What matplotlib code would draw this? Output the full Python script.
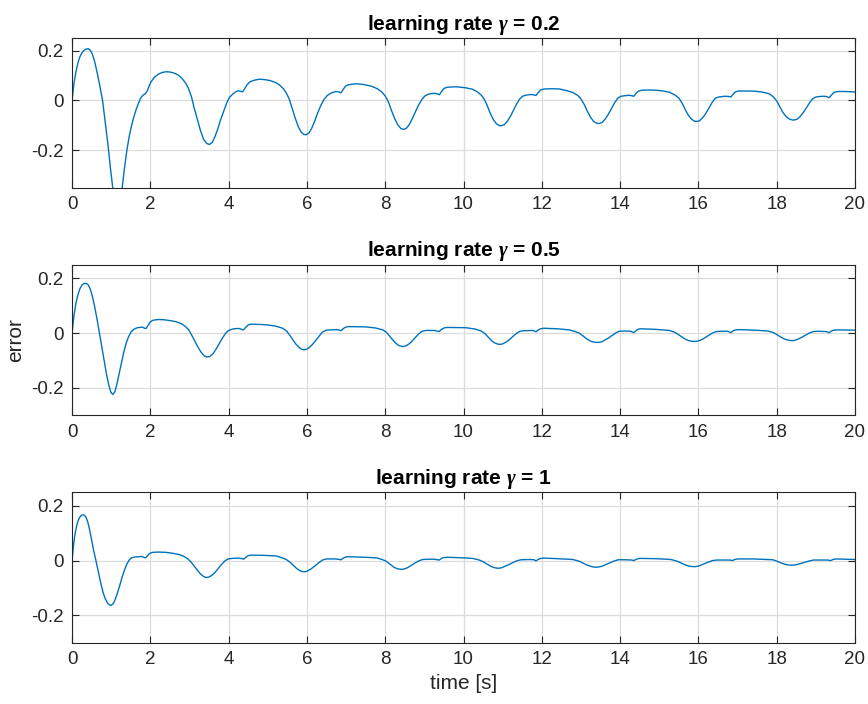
import numpy as np
import matplotlib
matplotlib.use('Agg')
import matplotlib.pyplot as plt

plt.rcParams['font.family'] = ['Liberation Sans', 'DejaVu Sans']
plt.rcParams['mathtext.fontset'] = 'custom'
plt.rcParams['mathtext.it'] = 'Liberation Serif:italic:bold'
plt.rcParams['mathtext.rm'] = 'Liberation Sans:bold'

# (time, error) samples for each learning rate
pts_02 = [
    (0, 0), (0.05, 0.07), (0.1, 0.115), (0.15, 0.15), (0.2, 0.175), (0.25, 0.19),
    (0.3, 0.2), (0.36, 0.206), (0.42, 0.207), (0.47, 0.2), (0.52, 0.185), (0.58, 0.155),
    (0.65, 0.105), (0.72, 0.05), (0.78, 0.0), (0.85, -0.09), (0.92, -0.18), (0.98, -0.27),
    (1.04, -0.35), (1.1, -0.4), (1.16, -0.42), (1.22, -0.4), (1.28, -0.35), (1.34, -0.27),
    (1.4, -0.2), (1.46, -0.145), (1.52, -0.1), (1.58, -0.065), (1.64, -0.035), (1.7, -0.01),
    (1.76, 0.012), (1.82, 0.022), (1.87, 0.027),
    (1.92, 0.038), (1.97, 0.058), (2.02, 0.075), (2.1, 0.092), (2.2, 0.105), (2.3, 0.112),
    (2.4, 0.115), (2.5, 0.114), (2.6, 0.11), (2.7, 0.103), (2.8, 0.09), (2.9, 0.07),
    (2.97, 0.05), (3.05, 0.015), (3.12, -0.03), (3.2, -0.075), (3.28, -0.12), (3.36, -0.155),
    (3.44, -0.172), (3.51, -0.176), (3.58, -0.168), (3.65, -0.145), (3.72, -0.115),
    (3.8, -0.075), (3.88, -0.04), (3.95, -0.01), (4.02, 0.012), (4.1, 0.025), (4.18, 0.035),
    (4.25, 0.039), (4.32, 0.036), (4.36, 0.035),
    (4.42, 0.05), (4.48, 0.065), (4.55, 0.075), (4.65, 0.081), (4.78, 0.085), (4.9, 0.084),
    (5.05, 0.08), (5.2, 0.072), (5.3, 0.062), (5.4, 0.047), (5.48, 0.028), (5.55, 0.005),
    (5.62, -0.03), (5.7, -0.07), (5.78, -0.105), (5.86, -0.128), (5.93, -0.136),
    (5.98, -0.137), (6.05, -0.13), (6.12, -0.112), (6.2, -0.082), (6.28, -0.048),
    (6.36, -0.018), (6.44, 0.005), (6.52, 0.02), (6.62, 0.03), (6.74, 0.036), (6.8, 0.035),
    (6.87, 0.031),
    (6.93, 0.045), (6.99, 0.058), (7.06, 0.063), (7.25, 0.067), (7.45, 0.064), (7.65, 0.057),
    (7.8, 0.047), (7.92, 0.033), (8.0, 0.018), (8.08, -0.005), (8.16, -0.04), (8.24, -0.072),
    (8.32, -0.097), (8.4, -0.112), (8.47, -0.116), (8.54, -0.111), (8.62, -0.095),
    (8.7, -0.07), (8.78, -0.042), (8.86, -0.016), (8.94, 0.005), (9.02, 0.019),
    (9.12, 0.026), (9.25, 0.029), (9.32, 0.027), (9.38, 0.023),
    (9.44, 0.036), (9.5, 0.048), (9.58, 0.053), (9.81, 0.055), (10.05, 0.051),
    (10.23, 0.045), (10.35, 0.035), (10.45, 0.022), (10.52, 0.008), (10.6, -0.018),
    (10.68, -0.05), (10.76, -0.076), (10.84, -0.093), (10.91, -0.1), (10.97, -0.101),
    (11.04, -0.097), (11.12, -0.083), (11.2, -0.063), (11.28, -0.038), (11.36, -0.013),
    (11.44, 0.007), (11.52, 0.018), (11.62, 0.022), (11.72, 0.024), (11.79, 0.023),
    (11.85, 0.02),
    (11.91, 0.032), (11.97, 0.042), (12.05, 0.046), (12.25, 0.047), (12.45, 0.046),
    (12.65, 0.039), (12.79, 0.032), (12.92, 0.02), (13.0, 0.006), (13.08, -0.015),
    (13.16, -0.042), (13.24, -0.066), (13.32, -0.083), (13.4, -0.091), (13.47, -0.092),
    (13.54, -0.088), (13.62, -0.074), (13.7, -0.055), (13.78, -0.032), (13.86, -0.009),
    (13.94, 0.009), (14.02, 0.017), (14.12, 0.019), (14.23, 0.021), (14.3, 0.019),
    (14.35, 0.017),
    (14.41, 0.029), (14.47, 0.038), (14.55, 0.041), (14.75, 0.042), (14.92, 0.041),
    (15.1, 0.038), (15.26, 0.033), (15.4, 0.022), (15.5, 0.01), (15.58, -0.01),
    (15.66, -0.035), (15.74, -0.058), (15.82, -0.074), (15.9, -0.083), (15.96, -0.084),
    (16.03, -0.081), (16.11, -0.069), (16.19, -0.052), (16.27, -0.03), (16.35, -0.008),
    (16.43, 0.009), (16.52, 0.014), (16.62, 0.016), (16.7, 0.017), (16.77, 0.016),
    (16.83, 0.014),
    (16.89, 0.026), (16.95, 0.035), (17.03, 0.038), (17.25, 0.038), (17.47, 0.037),
    (17.65, 0.033), (17.81, 0.027), (17.92, 0.014), (18.0, -0.002), (18.08, -0.025),
    (18.16, -0.048), (18.24, -0.064), (18.32, -0.074), (18.4, -0.078), (18.45, -0.078),
    (18.52, -0.075), (18.6, -0.064), (18.68, -0.048), (18.76, -0.029), (18.84, -0.009),
    (18.92, 0.007), (19.0, 0.014), (19.1, 0.016), (19.2, 0.017), (19.27, 0.016),
    (19.34, 0.011),
    (19.4, 0.022), (19.46, 0.032), (19.54, 0.036), (19.75, 0.036), (20, 0.034),
]

pts_05 = [
    (0, 0), (0.05, 0.065), (0.1, 0.11), (0.15, 0.14), (0.2, 0.162), (0.25, 0.175),
    (0.3, 0.181), (0.36, 0.182), (0.41, 0.177), (0.46, 0.163), (0.52, 0.135), (0.58, 0.095),
    (0.64, 0.05), (0.7, 0.0), (0.76, -0.05), (0.82, -0.1), (0.88, -0.15), (0.94, -0.19),
    (0.99, -0.215), (1.04, -0.224), (1.09, -0.215), (1.14, -0.19), (1.2, -0.15),
    (1.26, -0.11), (1.32, -0.07), (1.38, -0.038), (1.44, -0.014), (1.51, 0.005),
    (1.58, 0.014), (1.65, 0.019), (1.72, 0.021), (1.8, 0.022), (1.85, 0.018), (1.89, 0.017),
    (1.94, 0.028), (1.99, 0.04), (2.06, 0.047), (2.2, 0.05), (2.35, 0.049), (2.5, 0.046),
    (2.66, 0.042), (2.8, 0.034), (2.9, 0.024), (2.98, 0.012), (3.06, -0.008), (3.14, -0.03),
    (3.22, -0.052), (3.3, -0.07), (3.38, -0.083), (3.45, -0.087), (3.52, -0.085),
    (3.6, -0.075), (3.68, -0.058), (3.76, -0.038), (3.84, -0.018), (3.92, -0.001),
    (4.0, 0.01), (4.1, 0.015), (4.2, 0.017), (4.28, 0.017), (4.34, 0.013), (4.38, 0.012),
    (4.44, 0.022), (4.5, 0.03), (4.58, 0.033), (4.8, 0.032), (5.0, 0.03), (5.2, 0.026),
    (5.38, 0.018), (5.48, 0.008), (5.56, -0.007), (5.64, -0.024), (5.72, -0.04),
    (5.8, -0.052), (5.87, -0.059), (5.93, -0.061), (6.0, -0.058), (6.08, -0.05),
    (6.16, -0.038), (6.24, -0.024), (6.32, -0.009), (6.4, 0.004), (6.49, 0.011),
    (6.6, 0.012), (6.74, 0.013), (6.81, 0.012), (6.87, 0.009),
    (6.93, 0.017), (6.99, 0.022), (7.06, 0.024), (7.5, 0.023), (7.75, 0.019), (7.94, 0.012),
    (8.04, 0.002), (8.12, -0.012), (8.2, -0.026), (8.28, -0.038), (8.36, -0.046),
    (8.45, -0.049), (8.53, -0.046), (8.62, -0.038), (8.7, -0.027), (8.78, -0.014),
    (8.86, -0.002), (8.94, 0.007), (9.04, 0.01), (9.25, 0.01), (9.32, 0.008), (9.38, 0.006),
    (9.44, 0.014), (9.5, 0.019), (9.58, 0.021), (10.06, 0.02), (10.3, 0.015), (10.45, 0.008),
    (10.55, -0.002), (10.64, -0.016), (10.72, -0.028), (10.8, -0.036), (10.88, -0.04),
    (10.93, -0.041), (11.0, -0.039), (11.08, -0.033), (11.17, -0.024), (11.26, -0.012),
    (11.35, -0.001), (11.44, 0.007), (11.55, 0.009), (11.75, 0.01), (11.81, 0.008),
    (11.85, 0.005),
    (11.91, 0.012), (11.97, 0.016), (12.05, 0.018), (12.4, 0.016), (12.7, 0.012),
    (12.85, 0.006), (12.96, 0.0), (13.06, -0.011), (13.16, -0.022), (13.26, -0.03),
    (13.35, -0.033), (13.43, -0.034), (13.52, -0.032), (13.6, -0.026), (13.7, -0.018),
    (13.8, -0.008), (13.9, 0.002), (13.98, 0.007), (14.1, 0.008), (14.27, 0.007),
    (14.35, 0.002),
    (14.41, 0.01), (14.47, 0.015), (14.55, 0.016), (14.9, 0.014), (15.26, 0.01),
    (15.38, 0.004), (15.47, -0.003), (15.57, -0.013), (15.67, -0.022), (15.77, -0.028),
    (15.86, -0.03), (15.94, -0.03), (16.03, -0.027), (16.13, -0.02), (16.23, -0.011),
    (16.33, -0.002), (16.43, 0.005), (16.55, 0.007), (16.75, 0.007), (16.83, 0.002),
    (16.89, 0.009), (16.95, 0.012), (17.05, 0.013), (17.45, 0.011), (17.77, 0.008),
    (17.9, 0.003), (17.98, -0.003), (18.08, -0.012), (18.18, -0.02), (18.28, -0.025),
    (18.36, -0.027), (18.44, -0.027), (18.54, -0.022), (18.64, -0.015), (18.74, -0.007),
    (18.84, 0.001), (18.94, 0.006), (19.05, 0.007), (19.26, 0.006), (19.34, 0.002),
    (19.4, 0.008), (19.46, 0.011), (19.55, 0.012), (19.96, 0.011), (20, 0.011),
]

pts_1 = [
    (0, 0), (0.04, 0.06), (0.08, 0.1), (0.12, 0.128), (0.16, 0.147), (0.2, 0.159),
    (0.25, 0.166), (0.3, 0.167), (0.35, 0.16), (0.4, 0.142), (0.45, 0.112), (0.5, 0.075),
    (0.55, 0.038), (0.61, 0.0), (0.67, -0.04), (0.73, -0.08), (0.79, -0.115), (0.85, -0.14),
    (0.91, -0.156), (0.96, -0.162), (1.0, -0.163), (1.05, -0.158), (1.1, -0.143),
    (1.16, -0.118), (1.22, -0.09), (1.28, -0.06), (1.34, -0.034), (1.4, -0.013),
    (1.46, 0.002), (1.52, 0.01), (1.6, 0.013), (1.7, 0.014), (1.78, 0.015), (1.83, 0.012),
    (1.88, 0.01), (1.93, 0.018), (1.98, 0.026), (2.05, 0.03), (2.2, 0.031), (2.4, 0.03),
    (2.6, 0.026), (2.74, 0.022), (2.86, 0.015), (2.95, 0.007), (3.03, -0.004),
    (3.11, -0.018), (3.19, -0.033), (3.27, -0.047), (3.35, -0.057), (3.42, -0.062),
    (3.5, -0.06), (3.58, -0.053), (3.66, -0.042), (3.74, -0.028), (3.82, -0.014),
    (3.9, -0.002), (3.98, 0.006), (4.1, 0.008), (4.27, 0.009), (4.34, 0.007), (4.38, 0.005),
    (4.44, 0.012), (4.5, 0.018), (4.58, 0.02), (4.9, 0.019), (5.21, 0.017), (5.35, 0.011),
    (5.47, 0.004), (5.56, -0.005), (5.65, -0.017), (5.74, -0.029), (5.82, -0.037),
    (5.88, -0.04), (5.93, -0.041), (6.0, -0.039), (6.1, -0.031), (6.2, -0.02),
    (6.3, -0.008), (6.4, 0.002), (6.49, 0.006), (6.74, 0.006), (6.87, 0.003),
    (6.93, 0.009), (6.99, 0.013), (7.06, 0.014), (7.5, 0.012), (7.77, 0.01), (7.92, 0.004),
    (8.02, -0.002), (8.12, -0.013), (8.22, -0.024), (8.31, -0.03), (8.4, -0.032),
    (8.48, -0.031), (8.57, -0.026), (8.66, -0.018), (8.76, -0.009), (8.86, -0.001),
    (8.96, 0.004), (9.1, 0.005), (9.25, 0.005), (9.38, 0.002),
    (9.44, 0.008), (9.5, 0.011), (9.58, 0.012), (10.0, 0.01), (10.23, 0.008), (10.4, 0.002),
    (10.5, -0.004), (10.6, -0.013), (10.7, -0.021), (10.79, -0.026), (10.87, -0.028),
    (10.96, -0.027), (11.06, -0.021), (11.17, -0.014), (11.28, -0.006), (11.38, 0.0),
    (11.47, 0.003), (11.7, 0.004), (11.8, 0.003), (11.85, -0.001),
    (11.92, 0.005), (11.98, 0.008), (12.05, 0.009), (12.4, 0.007), (12.79, 0.004),
    (12.95, -0.002), (13.05, -0.009), (13.15, -0.016), (13.25, -0.021), (13.34, -0.024),
    (13.43, -0.024), (13.53, -0.021), (13.63, -0.015), (13.73, -0.009), (13.84, -0.002),
    (13.95, 0.003), (14.1, 0.003), (14.3, 0.002), (14.35, 0.0),
    (14.42, 0.005), (14.49, 0.008), (14.9, 0.007), (15.3, 0.004), (15.45, -0.002),
    (15.55, -0.008), (15.65, -0.015), (15.75, -0.02), (15.84, -0.022), (15.93, -0.022),
    (16.03, -0.019), (16.14, -0.012), (16.25, -0.006), (16.36, 0.0), (16.47, 0.002),
    (16.8, 0.002), (16.87, 0.0),
    (16.93, 0.004), (17.0, 0.006), (17.4, 0.006), (17.9, 0.003), (18.0, -0.002),
    (18.1, -0.008), (18.2, -0.013), (18.29, -0.016), (18.37, -0.017), (18.47, -0.016),
    (18.58, -0.012), (18.7, -0.007), (18.82, -0.002), (18.94, 0.002), (19.1, 0.002),
    (19.3, 0.002), (19.38, 0.0), (19.44, 0.004), (19.5, 0.006), (19.96, 0.004), (20, 0.004),
]

titles = [r'learning rate $\gamma$ = 0.2', r'learning rate $\gamma$ = 0.5',
          r'learning rate $\gamma$ = 1']
series = [pts_02, pts_05, pts_1]
ylims = [(-0.35, 0.25), (-0.3, 0.25), (-0.3, 0.25)]

fig = plt.figure(figsize=(8.68, 7.04), dpi=100)
boxes = [[0.083, 0.733, 0.902, 0.213],
         [0.083, 0.410, 0.902, 0.214],
         [0.083, 0.087, 0.902, 0.214]]

for i in range(3):
    ax = fig.add_axes(boxes[i])
    data = np.array(series[i])
    ax.plot(data[:, 0], data[:, 1], color='#0072BD', lw=1.0)
    ax.set_xlim(0, 20)
    ax.set_ylim(*ylims[i])
    ax.set_xticks(np.arange(0, 21, 2))
    ax.set_yticks([-0.2, 0, 0.2])
    ax.set_yticklabels(['-0.2', '0', '0.2'])
    ax.grid(True, color='#dcdcdc', lw=0.9)
    ax.set_axisbelow(True)
    ax.tick_params(direction='in', top=True, right=True, labelsize=13.5,
                   colors='#262626', length=5, width=0.8, pad=6)
    for s in ax.spines.values():
        s.set_color('#262626')
        s.set_linewidth(0.8)
    ax.set_title(titles[i], fontsize=15, fontweight='bold', pad=6)
    if i == 1:
        ax.set_ylabel('error', fontsize=15, color='#262626')
    if i == 2:
        ax.set_xlabel('time [s]', fontsize=15, color='#262626')

fig.savefig('out.png', dpi=100)
